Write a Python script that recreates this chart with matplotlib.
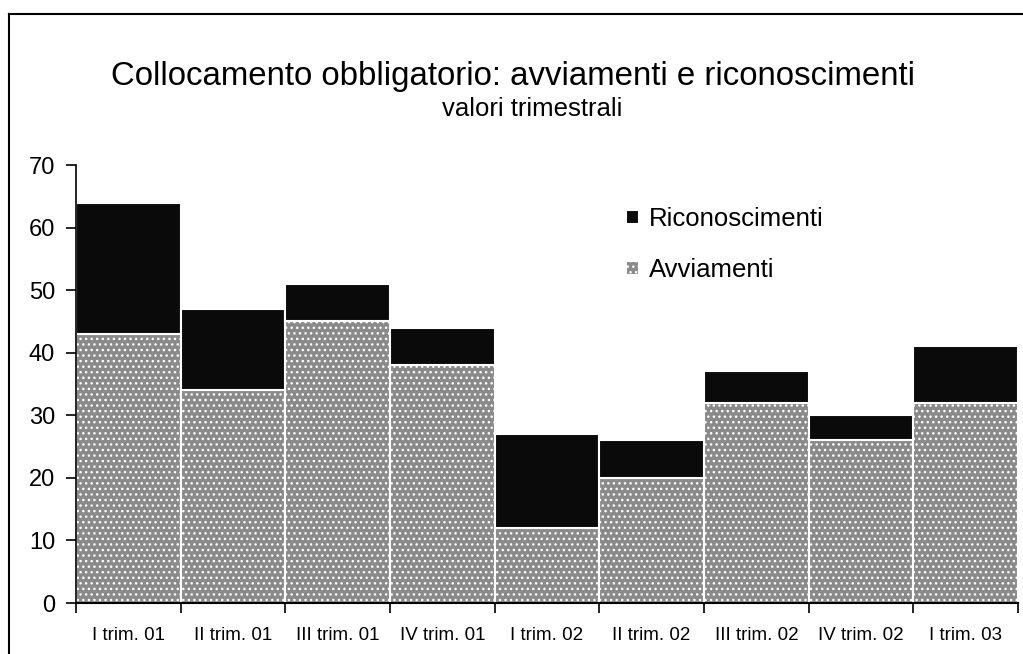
import matplotlib
matplotlib.use("Agg")
import matplotlib.pyplot as plt
from matplotlib.lines import Line2D
import numpy as np

plt.rcParams['font.family'] = ['Liberation Sans', 'DejaVu Sans']
plt.rcParams['hatch.linewidth'] = 1.0

categories = ["I trim. 01", "II trim. 01", "III trim. 01", "IV trim. 01",
              "I trim. 02", "II trim. 02", "III trim. 02", "IV trim. 02", "I trim. 03"]
avviamenti = [43, 34, 45, 38, 12, 20, 32, 26, 32]
riconoscimenti = [21, 13, 6, 6, 15, 6, 5, 4, 9]
yticks = [0, 10, 20, 30, 40, 50, 60, 70]

W, H = 1023, 654
fig = plt.figure(figsize=(W / 100, H / 100), dpi=100)
ax = fig.add_axes([76 / W, 1 - 603 / H, 942 / W, 438 / H])

x = np.arange(len(categories))
b1 = ax.bar(x, avviamenti, width=1.0, color='#8a8a8a', edgecolor='white',
            linewidth=1.5, hatch='...', label='Avviamenti')
b2 = ax.bar(x, riconoscimenti, width=1.0, bottom=avviamenti, color='#0a0a0a',
            edgecolor='white', linewidth=1.5, label='Riconoscimenti')

ax.set_xlim(-0.5, len(categories) - 0.5)
ax.set_ylim(0, 70)
ax.set_yticks(yticks)
ax.tick_params(axis='y', labelsize=17, length=7, width=1.2, pad=8, direction='out')
ax.set_xticks(x)
ax.set_xticklabels(categories, fontsize=13.5)
ax.set_xticks(np.arange(len(categories) + 1) - 0.5, minor=True)
ax.tick_params(axis='x', which='major', length=0, pad=17)
ax.tick_params(axis='x', which='minor', length=7, width=1.2, direction='out')
for s in ['top', 'right']:
    ax.spines[s].set_visible(False)
ax.spines['left'].set_linewidth(1.2)
ax.spines['bottom'].set_linewidth(1.5)

ax.legend([b2, b1], ['Riconoscimenti', 'Avviamenti'], loc='upper left',
          bbox_to_anchor=(603 / W, 1 - 184 / H), bbox_transform=fig.transFigure,
          frameon=False, fontsize=18.5, handlelength=0.5, handleheight=0.5,
          handletextpad=0.4, labelspacing=1.05)

fig.text(513 / W, 1 - 77 / H, "Collocamento obbligatorio: avviamenti e riconoscimenti",
         ha='center', va='center', fontsize=23.8)
fig.text(532 / W, 1 - 109 / H, "valori trimestrali", ha='center', va='center', fontsize=18.5)

fig.add_artist(Line2D([9 / W, 9 / W], [0, 1 - 14 / H], transform=fig.transFigure,
                      color='black', lw=1.5))
fig.add_artist(Line2D([9 / W, 1], [1 - 14 / H, 1 - 14 / H], transform=fig.transFigure,
                      color='black', lw=1.5))

fig.savefig("out.png", dpi=100, facecolor='white')
